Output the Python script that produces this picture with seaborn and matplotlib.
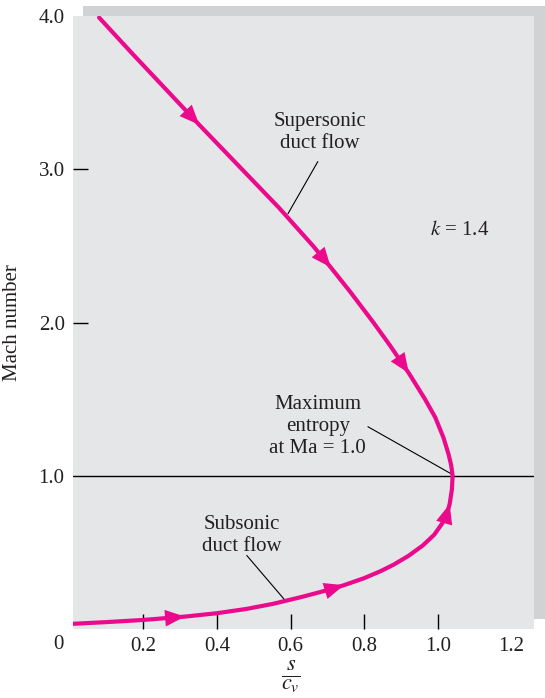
import numpy as np
import matplotlib
matplotlib.use("Agg")
import matplotlib.pyplot as plt
import matplotlib.transforms as mtransforms
from matplotlib.patches import Rectangle
import seaborn as sns

# ---- data (Fanno line, k = 1.4) ----
# ordered along the curve from the supersonic end to the subsonic end
s_cv = [0.080, 0.172, 0.270, 0.352, 0.468, 0.568, 0.661, 0.709, 0.762, 0.825,
        0.870, 0.921, 0.965, 0.993, 1.015, 1.029, 1.036, 1.040, 1.038, 1.032,
        1.026, 1.012, 0.990, 0.959, 0.920, 0.880, 0.845, 0.800, 0.745, 0.707,
        0.630, 0.552, 0.480, 0.400, 0.313, 0.200, 0.100, 0.001]
mach = [3.99, 3.75, 3.50, 3.29, 3.00, 2.75, 2.50, 2.36, 2.20, 2.00,
        1.85, 1.67, 1.50, 1.38, 1.25, 1.14, 1.07, 1.00, 0.91, 0.815,
        0.765, 0.690, 0.615, 0.545, 0.477, 0.420, 0.378, 0.332, 0.286, 0.258,
        0.209, 0.164, 0.131, 0.103, 0.081, 0.059, 0.045, 0.033]
# arrowheads (index into the curve) and the flow direction (+1: toward larger index)
arrow_idx = [3, 7, 11, 19, 28, 34]
arrow_dir = [+1, +1, +1, -1, -1, -1]

x_ticks = [0.2, 0.4, 0.6, 0.8, 1.0, 1.2]
x_ticklabels = ["0.2", "0.4", "0.6", "0.8", "1.0", "1.2"]
y_ticks = [1.0, 2.0, 3.0, 4.0]
y_ticklabels = ["1.0", "2.0", "3.0", "4.0"]

MAGENTA = "#EB0A8C"
AX_BG = "#E5E6E8"
SHADOW = "#D1D2D4"
INK = "#231F20"
FS = 15

sns.set_theme(style="white")
plt.rcParams["font.family"] = ["Liberation Serif", "DejaVu Serif"]
plt.rcParams["mathtext.fontset"] = "stix"

W, H = 545, 698
fig = plt.figure(figsize=(W / 100, H / 100), dpi=100)
fig.patch.set_facecolor("white")

# shadow panel behind the axes
fig.patches.append(Rectangle((83 / W, 1 - 619 / H), 1 - 83 / W, (619 - 6) / H,
                             transform=fig.transFigure, facecolor=SHADOW,
                             edgecolor="none", zorder=-5))

ax = fig.add_axes([73 / W, 1 - 629 / H, (534 - 73) / W, (629 - 16) / H])
ax.set_zorder(2)
ax.set_facecolor(AX_BG)
for sp in ax.spines.values():
    sp.set_visible(False)

ax.axhline(1.0, color="black", lw=1.0, zorder=2)

sns.lineplot(x=s_cv, y=mach, sort=False, estimator=None, color=MAGENTA,
             linewidth=3.0, ax=ax, zorder=3)
ax.lines[-1].set_solid_joinstyle("round")

for i, d in zip(arrow_idx, arrow_dir):
    j = i - d
    x0 = s_cv[i] + 0.5 * (s_cv[j] - s_cv[i])
    y0 = mach[i] + 0.5 * (mach[j] - mach[i])
    ax.annotate("", xy=(s_cv[i], mach[i]), xytext=(x0, y0),
                arrowprops=dict(arrowstyle="-|>,head_length=0.95,head_width=0.4",
                                color=MAGENTA, lw=0, shrinkA=0, shrinkB=0,
                                mutation_scale=15), zorder=4)

ax.set_xlim(0.0092, 1.261)
ax.set_ylim(0, 4.0)

ax.set_xticks(x_ticks)
ax.set_xticklabels(x_ticklabels)
ax.set_yticks(y_ticks)
ax.set_yticklabels(y_ticklabels)
ax.tick_params(axis="both", direction="in", length=11, width=1.0, color="black",
               labelsize=FS, labelcolor=INK)
ax.tick_params(axis="x", pad=6, bottom=True)
ax.tick_params(axis="y", pad=6, left=True)
# no tick marks at 1.2 (x) and at 1.0 / 4.0 (y)
ax.xaxis.get_major_ticks()[-1].tick1line.set_visible(False)
yt = ax.yaxis.get_major_ticks()
yt[0].tick1line.set_visible(False)
yt[-1].tick1line.set_visible(False)
ax.text(0, 0.0, "0",
        transform=ax.transAxes + mtransforms.ScaledTranslation(-15 / 100, -6 / 100, fig.dpi_scale_trans),
        ha="center", va="top", fontsize=FS, color=INK)

ax.set_ylabel("Mach number", fontsize=FS, color=INK)
ax.yaxis.set_label_coords(-0.111, 0.50)
ax.set_xlabel(r"$\frac{s}{c_v}$", fontsize=23, color=INK)
ax.xaxis.set_label_coords(0.473, -0.048)
ax.xaxis.label.set_va("top")

txt = dict(fontsize=FS, color=INK, ha="center", va="center", linespacing=1.2)
ax.text(0.68, 3.24, "Supersonic\nduct flow", **txt)
ax.plot([0.674, 0.593], [3.05, 2.71], color="black", lw=0.8)
ax.text(1.06, 2.60, r"$k$ = 1.4", **txt)
ax.text(0.674, 1.32, "Maximum\nentropy\nat Ma = 1.0", **txt)
ax.plot([0.810, 1.038], [1.32, 1.01], color="black", lw=0.8)
ax.text(0.468, 0.61, "Subsonic\nduct flow", **txt)
ax.plot([0.481, 0.584], [0.48, 0.19], color="black", lw=0.8)

fig.savefig("out.png", dpi=100)
